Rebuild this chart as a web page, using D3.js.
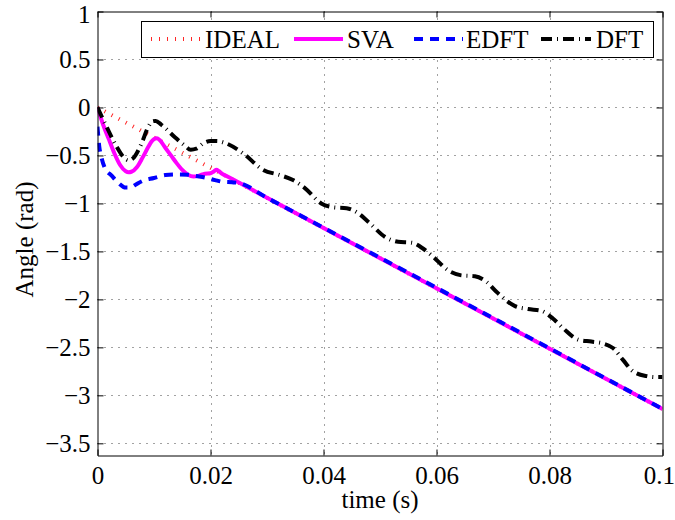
<!DOCTYPE html>
<html>
<head>
<meta charset="utf-8">
<script src="https://cdn.jsdelivr.net/npm/d3@7"></script>
<style>
  html, body { margin: 0; padding: 0; background: #fff; }
  svg { display: block; }
  svg text { font-family: "Liberation Serif", "Times New Roman", serif !important; fill: #000; }
</style>
</head>
<body>
<svg id="chart" width="675" height="520"></svg>
<script>
// Phase angle estimates (rad) over time (s)
const idealTime = [0, 0.1];
const idealAngle = [0, -3.1416];

const svaTime = [0, 0.001, 0.002, 0.003, 0.004, 0.005, 0.0055, 0.006, 0.007, 0.008, 0.009, 0.0095,
  0.010, 0.0105, 0.011, 0.012, 0.013, 0.014, 0.015, 0.016, 0.017, 0.018, 0.019, 0.020, 0.0205,
  0.021, 0.0215, 0.022, 0.023, 0.03, 0.1];
const svaAngle = [0, -0.18, -0.33, -0.48, -0.60, -0.665, -0.675, -0.67, -0.62, -0.52, -0.41, -0.36,
  -0.33, -0.32, -0.34, -0.42, -0.50, -0.58, -0.65, -0.70, -0.72, -0.71, -0.69, -0.685, -0.67,
  -0.65, -0.665, -0.69, -0.72, -0.942, -3.1416];

const edftTime = [0, 0.0003, 0.0007, 0.0013, 0.0025, 0.0036, 0.005, 0.0058, 0.0066, 0.008, 0.010,
  0.012, 0.014, 0.016, 0.0175, 0.019, 0.0208, 0.0222, 0.0238, 0.025, 0.03, 0.1];
const edftAngle = [-0.2, -0.4, -0.52, -0.63, -0.71, -0.78, -0.835, -0.835, -0.81, -0.765, -0.735,
  -0.705, -0.698, -0.70, -0.715, -0.73, -0.757, -0.775, -0.78, -0.787, -0.942, -3.1416];

const dftTime = [0, 0.0016, 0.0034, 0.0045, 0.0055, 0.0063, 0.0078, 0.009, 0.0097, 0.0103, 0.0113,
  0.0137, 0.0155, 0.0165, 0.0175, 0.0187, 0.020, 0.0211, 0.0228, 0.0258, 0.0293, 0.0323, 0.0346,
  0.0367, 0.0396, 0.0417, 0.0441, 0.0461, 0.0479, 0.0512, 0.0532, 0.0556, 0.0576, 0.0591, 0.0624,
  0.0644, 0.0668, 0.0689, 0.0706, 0.0739, 0.0762, 0.0786, 0.0806, 0.0824, 0.0851, 0.0874, 0.0895,
  0.0913, 0.093, 0.0948, 0.0972, 0.0989, 0.1];
const dftAngle = [0, -0.2, -0.41, -0.51, -0.55, -0.53, -0.375, -0.2, -0.145, -0.14, -0.18,
  -0.31, -0.4, -0.44, -0.43, -0.375, -0.35, -0.35, -0.375, -0.48, -0.65, -0.705, -0.757,
  -0.84, -1.0, -1.04, -1.05, -1.10, -1.19, -1.36, -1.40, -1.41, -1.47, -1.54, -1.71,
  -1.75, -1.76, -1.82, -1.92, -2.07, -2.10, -2.12, -2.20, -2.30, -2.42, -2.44, -2.46,
  -2.51, -2.63, -2.75, -2.80, -2.81, -2.81];

const xTicks = [0, 0.02, 0.04, 0.06, 0.08, 0.1];
const xTickLabels = ["0", "0.02", "0.04", "0.06", "0.08", "0.1"];
const yTicks = [1, 0.5, 0, -0.5, -1, -1.5, -2, -2.5, -3, -3.5];
const yTickLabels = ["1", "0.5", "0", "\u22120.5", "\u22121", "\u22121.5", "\u22122", "\u22122.5", "\u22123", "\u22123.5"];

const seriesNames = ["IDEAL", "SVA", "EDFT", "DFT"];
const xLabel = "time (s)";
const yLabel = "Angle (rad)";

// Layout
const plot = { left: 97.5, right: 662.5, top: 11.5, bottom: 455.5 };
const fontSize = 25;
const serif = '"Liberation Serif", "Times New Roman", serif';

const svg = d3.select("#chart");
const x = d3.scaleLinear().domain([0, 0.1]).range([plot.left, plot.right]);
const y = d3.scaleLinear().domain([-3.627, 1]).range([plot.bottom, plot.top]);

const styles = {
  IDEAL: { color: "#ff0000", width: 4, dash: "1,7", opacity: 0.85 },
  SVA:   { color: "#ff00ff", width: 4, dash: null, opacity: 1 },
  EDFT:  { color: "#0000ff", width: 4, dash: "9,7", opacity: 1 },
  DFT:   { color: "#000000", width: 4, dash: "11,5,1,5", opacity: 1 }
};

// Grid
const grid = svg.append("g").attr("stroke", "#444").attr("stroke-width", 1)
  .attr("stroke-dasharray", "1,6").attr("fill", "none");
grid.selectAll("line.gx").data(xTicks.slice(1, -1)).join("line")
  .attr("x1", d => Math.round(x(d)) + 0.5).attr("x2", d => Math.round(x(d)) + 0.5)
  .attr("y1", plot.top).attr("y2", plot.bottom);
grid.selectAll("line.gy").data(yTicks.slice(1)).join("line")
  .attr("y1", d => Math.round(y(d)) + 0.5).attr("y2", d => Math.round(y(d)) + 0.5)
  .attr("x1", plot.left).attr("x2", plot.right);

// Clip region for data lines
svg.append("defs").append("clipPath").attr("id", "plotClip")
  .append("rect").attr("x", plot.left).attr("y", plot.top)
  .attr("width", plot.right - plot.left).attr("height", plot.bottom - plot.top);

const line = d3.line().x(d => x(d[0])).y(d => y(d[1])).curve(d3.curveMonotoneX);
const zip = (t, v) => t.map((ti, i) => [ti, v[i]]);
const series = [
  { name: "IDEAL", pts: zip(idealTime, idealAngle) },
  { name: "SVA", pts: zip(svaTime, svaAngle) },
  { name: "EDFT", pts: zip(edftTime, edftAngle) },
  { name: "DFT", pts: zip(dftTime, dftAngle) }
];

const lines = svg.append("g").attr("clip-path", "url(#plotClip)");
series.forEach(s => {
  const st = styles[s.name];
  lines.append("path").datum(s.pts)
    .attr("d", line)
    .attr("fill", "none")
    .attr("stroke", st.color)
    .attr("stroke-width", st.width)
    .attr("stroke-opacity", st.opacity)
    .attr("stroke-dasharray", st.dash)
    .attr("stroke-linejoin", "round");
});

// Axes with inward ticks on all four sides
const tickLen = 6;
const fmtX = d => xTickLabels[xTicks.indexOf(d)];
const fmtY = d => yTickLabels[yTicks.indexOf(d)];

const axB = svg.append("g").attr("transform", `translate(0,${plot.bottom})`)
  .call(d3.axisBottom(x).tickValues(xTicks).tickFormat(fmtX).tickSizeInner(-tickLen).tickSizeOuter(0).tickPadding(11));
const axT = svg.append("g").attr("transform", `translate(0,${plot.top})`)
  .call(d3.axisTop(x).tickValues(xTicks).tickFormat("").tickSizeInner(-tickLen).tickSizeOuter(0));
const axL = svg.append("g").attr("transform", `translate(${plot.left},0)`)
  .call(d3.axisLeft(y).tickValues(yTicks).tickFormat(fmtY).tickSizeInner(-tickLen).tickSizeOuter(0).tickPadding(7));
const axR = svg.append("g").attr("transform", `translate(${plot.right},0)`)
  .call(d3.axisRight(y).tickValues(yTicks).tickFormat("").tickSizeInner(-tickLen).tickSizeOuter(0));

[axB, axT, axL, axR].forEach(a => {
  a.attr("font-family", null).style("font-family", serif);
  a.select(".domain").attr("stroke", "#000").attr("stroke-width", 1);
  a.selectAll(".tick line").attr("stroke", "#000");
  a.selectAll(".tick text").style("font-family", serif)
    .attr("font-size", fontSize).attr("fill", "#000");
});
axB.selectAll(".tick text").attr("dy", "0.71em");
// keep the last x label and the top y label inside the canvas
axB.selectAll(".tick text").filter(d => d === 0.1).attr("text-anchor", "end").attr("x", 12);
axL.selectAll(".tick text").filter(d => d === 1).attr("dy", "0.42em");

// Axis titles
svg.append("text").attr("x", (plot.left + plot.right) / 2).attr("y", 508)
  .attr("text-anchor", "middle").attr("font-size", fontSize).style("font-family", serif).text(xLabel);
svg.append("text").attr("transform", `translate(33,${(plot.top + plot.bottom) / 2 + 6}) rotate(-90)`)
  .attr("text-anchor", "middle").attr("font-size", fontSize).style("font-family", serif).text(yLabel);

// Legend
const legend = svg.append("g");
legend.append("rect").attr("x", 141.5).attr("y", 21.5).attr("width", 512).attr("height", 36)
  .attr("fill", "#fff").attr("stroke", "#000").attr("stroke-width", 1);
const legendItems = [
  { name: "IDEAL", x0: 151, x1: 200, tx: 205 },
  { name: "SVA", x0: 294, x1: 343, tx: 347 },
  { name: "EDFT", x0: 414, x1: 463, tx: 466 },
  { name: "DFT", x0: 541, x1: 591, tx: 596 }
];
legendItems.forEach(it => {
  const st = styles[it.name];
  legend.append("line").attr("x1", it.x0).attr("x2", it.x1).attr("y1", 39).attr("y2", 39)
    .attr("stroke", st.color).attr("stroke-width", st.width)
    .attr("stroke-opacity", st.opacity).attr("stroke-dasharray", st.dash);
  legend.append("text").attr("x", it.tx).attr("y", 48).attr("font-size", fontSize)
    .style("font-family", serif).text(it.name);
});
</script>
</body>
</html>
